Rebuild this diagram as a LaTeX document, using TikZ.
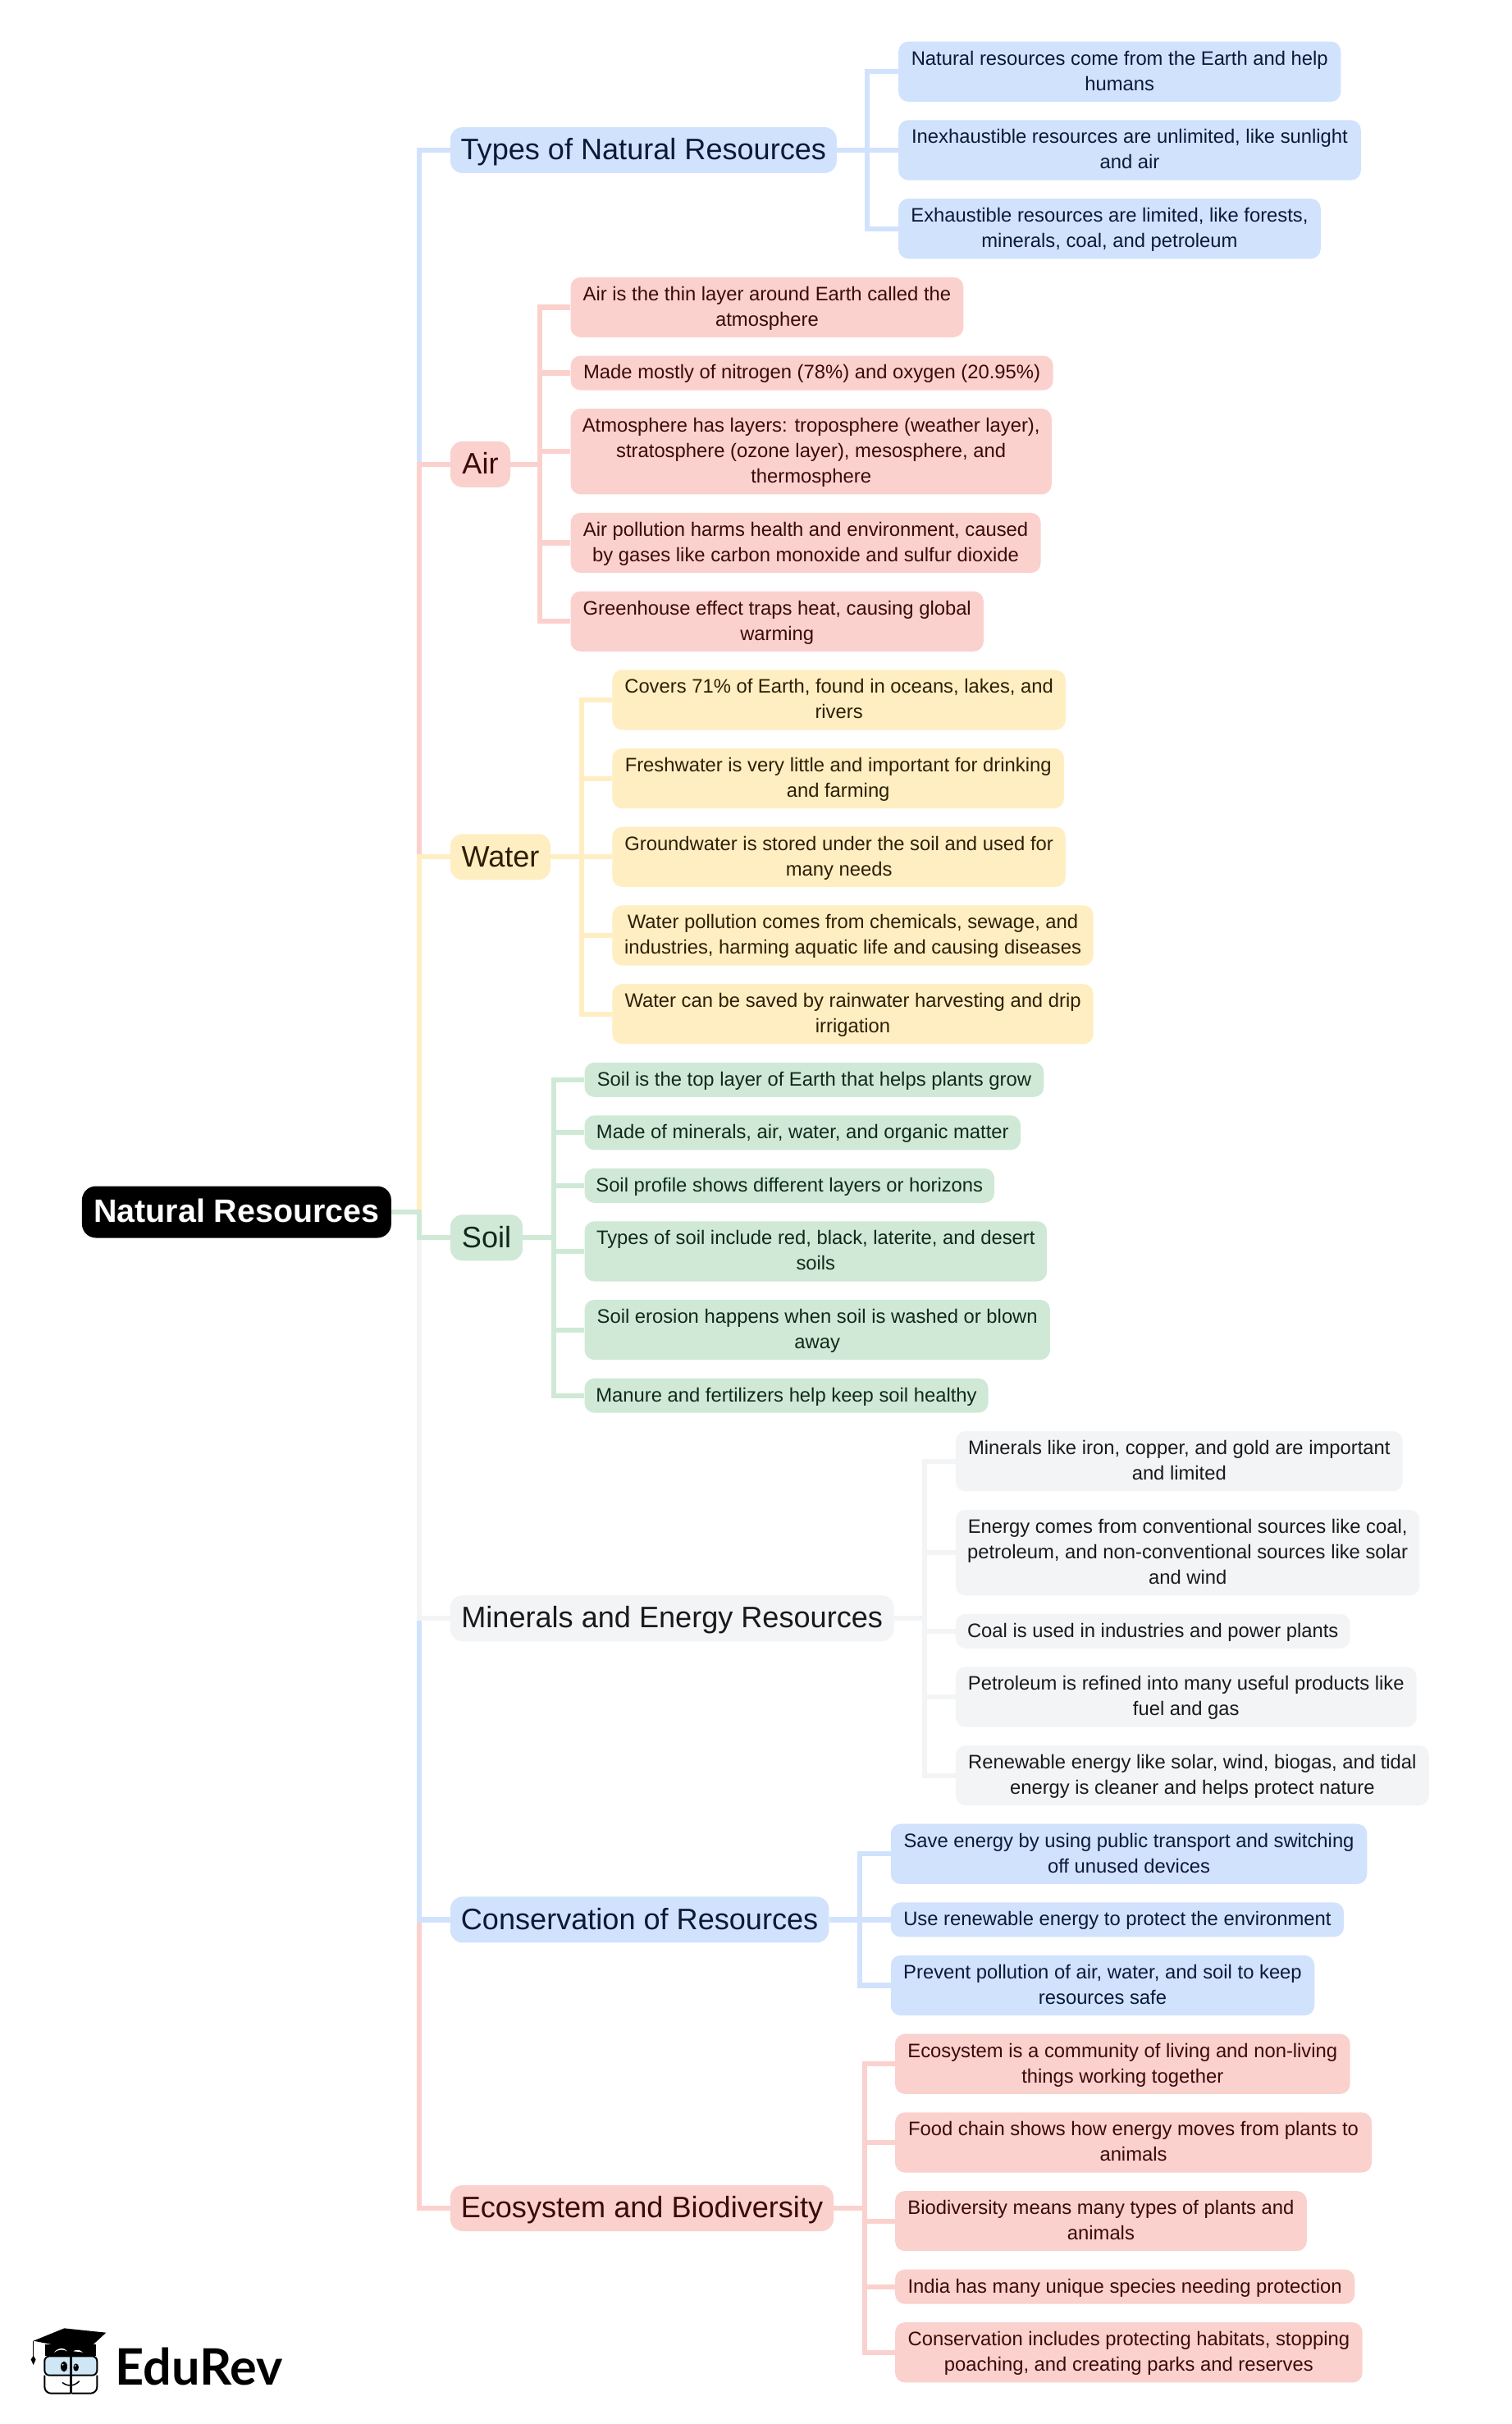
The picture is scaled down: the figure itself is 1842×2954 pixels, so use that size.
\documentclass[tikz,border=0pt]{standalone}
\usepackage{fontspec}
\setmainfont{Liberation Sans}
\newfontfamily\logofont{Lato}
\definecolor{bluef}{HTML}{D1E2FC}\definecolor{bluet}{HTML}{0A1A3A}
\definecolor{pinkf}{HTML}{FBD1CD}\definecolor{pinkt}{HTML}{3B0A0A}
\definecolor{yelf}{HTML}{FFEEC2}\definecolor{yelt}{HTML}{2E1F05}
\definecolor{grnf}{HTML}{CFE9D6}\definecolor{grnt}{HTML}{0F2A1A}
\definecolor{gryf}{HTML}{F3F4F6}\definecolor{gryt}{HTML}{1A1A1A}
\definecolor{glass}{HTML}{CFE6F5}
\tikzset{
 box/.style={inner sep=0pt,align=center,rounded corners=12pt},
 leafbox/.style={box,font=\fontsize{23.8}{31}\selectfont},
 topicbox/.style={box,rounded corners=15pt,font=\fontsize{36.1}{42}\selectfont},
 rootbox/.style={box,rounded corners=17pt,fill=black,text=white,font=\fontsize{39.4}{45}\bfseries\selectfont},
 bluec/.style={fill=bluef,text=bluet},
 pinkc/.style={fill=pinkf,text=pinkt},
 yelc/.style={fill=yelf,text=yelt},
 grnc/.style={fill=grnf,text=grnt},
 gryc/.style={fill=gryf,text=gryt},
 link/.style={line width=6.2pt,line join=miter},
}
% name, x1, x2, y1, y2, style, text
\newcommand{\nd}[7]{\node[#6,minimum width=(#3-#2)*1.885pt,minimum height=(#5-#4)*1pt] (#1) at ({(#2+#3)/2},{(#4+#5)/2}) {#7};}
\newcommand{\lf}[7]{\nd{#1}{#2}{(#3-1)}{#4}{#5}{leafbox,#6}{\rule{0pt}{22pt}#7\rule[-7.4pt]{0pt}{7.4pt}}}
\newcommand{\tp}[6]{\nd{#1}{#2}{#3}{(#4-28)}{(#4+28)}{topicbox,#5}{\rule{0pt}{30pt}#6\rule[-6pt]{0pt}{6pt}}}
\newcommand{\fan}[4]{\coordinate (busx) at (#2,0);
 \foreach \l in {#4}{\draw[link,#3] (#1.east) -- (busx |- #1.east) -- (busx |- \l.west) -- (\l.west);}}
\begin{document}
\begin{tikzpicture}[x=1.885pt,y=-1pt]
\fill[white] (0pt,0pt) rectangle (1842pt,-2954pt);
\useasboundingbox (0pt,0pt) rectangle (1842pt,-2954pt);
\nd{root}{53}{253}{1445.5}{1508.5}{rootbox}{\rule{0pt}{32pt}Natural Resources\rule[-7.4pt]{0pt}{7.4pt}}
\tp{t}{291.2}{541}{183}{bluec}{Types of Natural Resources}
\tp{a}{291.2}{330}{565.8}{pinkc}{Air}
\tp{w}{291.2}{356}{1044.3}{yelc}{Water}
\tp{s}{291.2}{338}{1508.25}{grnc}{Soil}
\tp{m}{291.2}{578}{1972.2}{gryc}{Minerals and Energy Resources}
\tp{c}{291.2}{536}{2339.4}{bluec}{Conservation of Resources}
\tp{e}{291.2}{539}{2691}{pinkc}{Ecosystem and Biodiversity}
\lf{t1}{581}{868}{50.7}{123.9}{bluec}{Natural resources come from the Earth and help\\humans}
\lf{t2}{581}{881}{146.4}{219.6}{bluec}{Inexhaustible resources are unlimited, like sunlight\\and air}
\lf{t3}{581}{855}{242.1}{315.3}{bluec}{Exhaustible resources are limited, like forests,\\minerals, coal, and petroleum}
\lf{a1}{369}{624}{337.8}{411.0}{pinkc}{Air is the thin layer around Earth called the\\atmosphere}
\lf{a2}{369}{682}{433.5}{475.5}{pinkc}{Made mostly of nitrogen (78\%) and oxygen (20.95\%)}
\lf{a3}{369}{681}{498.0}{602.4}{pinkc}{Atmosphere has layers: troposphere (weather layer),\\stratosphere (ozone layer), mesosphere, and\\thermosphere}
\lf{a4}{369}{674}{624.9}{698.1}{pinkc}{Air pollution harms health and environment, caused\\by gases like carbon monoxide and sulfur dioxide}
\lf{a5}{369}{637}{720.6}{793.8}{pinkc}{Greenhouse effect traps heat, causing global\\warming}
\lf{w1}{396}{690}{816.3}{889.5}{yelc}{Covers 71\% of Earth, found in oceans, lakes, and\\rivers}
\lf{w2}{396}{689}{912.0}{985.2}{yelc}{Freshwater is very little and important for drinking\\and farming}
\lf{w3}{396}{690}{1007.7}{1080.9}{yelc}{Groundwater is stored under the soil and used for\\many needs}
\lf{w4}{396}{708}{1103.4}{1176.6}{yelc}{Water pollution comes from chemicals, sewage, and\\industries, harming aquatic life and causing diseases}
\lf{w5}{396}{708}{1199.1}{1272.3}{yelc}{Water can be saved by rainwater harvesting and drip\\irrigation}
\lf{s1}{378}{676}{1294.8}{1336.8}{grnc}{Soil is the top layer of Earth that helps plants grow}
\lf{s2}{378}{661}{1359.3}{1401.3}{grnc}{Made of minerals, air, water, and organic matter}
\lf{s3}{378}{644}{1423.8}{1465.8}{grnc}{Soil profile shows different layers or horizons}
\lf{s4}{378}{678}{1488.3}{1561.5}{grnc}{Types of soil include red, black, laterite, and desert\\soils}
\lf{s5}{378}{680}{1584.0}{1657.2}{grnc}{Soil erosion happens when soil is washed or blown\\away}
\lf{s6}{378}{640}{1679.7}{1721.7}{grnc}{Manure and fertilizers help keep soil healthy}
\lf{m1}{618}{908}{1744.2}{1817.4}{gryc}{Minerals like iron, copper, and gold are important\\and limited}
\lf{m2}{618}{919}{1839.9}{1944.3}{gryc}{Energy comes from conventional sources like coal,\\petroleum, and non-conventional sources like solar\\and wind}
\lf{m3}{618}{874}{1966.8}{2008.8}{gryc}{Coal is used in industries and power plants}
\lf{m4}{618}{917}{2031.3}{2104.5}{gryc}{Petroleum is refined into many useful products like\\fuel and gas}
\lf{m5}{618}{925}{2127.0}{2200.2}{gryc}{Renewable energy like solar, wind, biogas, and tidal\\energy is cleaner and helps protect nature}
\lf{c1}{576}{885}{2222.7}{2295.9}{bluec}{Save energy by using public transport and switching\\off unused devices}
\lf{c2}{576}{870}{2318.4}{2360.4}{bluec}{Use renewable energy to protect the environment}
\lf{c3}{576}{851}{2382.9}{2456.1}{bluec}{Prevent pollution of air, water, and soil to keep\\resources safe}
\lf{e1}{578.8}{874}{2478.6}{2551.8}{pinkc}{Ecosystem is a community of living and non-living\\things working together}
\lf{e2}{578.8}{888}{2574.3}{2647.5}{pinkc}{Food chain shows how energy moves from plants to\\animals}
\lf{e3}{578.8}{846}{2670.0}{2743.2}{pinkc}{Biodiversity means many types of plants and\\animals}
\lf{e4}{578.8}{877}{2765.7}{2807.7}{pinkc}{India has many unique species needing protection}
\lf{e5}{578.8}{882}{2830.2}{2903.4}{pinkc}{Conservation includes protecting habitats, stopping\\poaching, and creating parks and reserves}
% connectors
\coordinate (trunk) at (271.2,0);
\foreach \n/\cc in {t/bluef,a/pinkf,w/yelf,e/pinkf,c/bluef,m/gryf,s/grnf}{
 \draw[link,\cc] (root.east) -- (trunk |- root.east) -- (trunk |- \n.west) -- (\n.west);}
\fan{t}{560.8}{bluef}{t1,t2,t3}
\fan{a}{349}{pinkf}{a1,a2,a3,a4,a5}
\fan{w}{376}{yelf}{w1,w2,w3,w4,w5}
\fan{s}{358}{grnf}{s1,s2,s3,s4,s5,s6}
\fan{m}{598}{gryf}{m1,m2,m3,m4,m5}
\fan{c}{556}{bluef}{c1,c2,c3}
\fan{e}{559}{pinkf}{e1,e2,e3,e4,e5}
% logo
\begin{scope}[shift={(0pt,-2800pt)},x=0.3333pt,y=-0.3333pt]
 \fill (165,170) rectangle (350,212);
 \fill[white] (198,200) .. controls (215,180) and (235,182) .. (246,196) .. controls (232,188) and (215,188) .. (198,200);
 \fill[white] (268,196) .. controls (280,188) and (292,190) .. (303,200) -- (290,198) -- cycle;
 \fill (122,158) -- (235,112) -- (388,128) -- (315,195) -- cycle;
 \draw[line width=1.2pt] (122,158) -- (122,215);
 \fill (122,212) -- (131,226) -- (122,246) -- (113,226) -- cycle;
 \draw[line width=2pt,fill=glass,rounded corners=6pt] (163,214) rectangle (355,284);
 \draw[line width=2pt,rounded corners=8pt] (258,350) -- (163,350) -- (163,284);
 \draw[line width=2pt,rounded corners=8pt] (262,350) -- (355,350) -- (355,284);
 \draw[line width=2.5pt] (260,208) -- (260,352);
 \fill (234,252) ellipse [x radius=12,y radius=19];
 \fill (278,255) ellipse [x radius=10,y radius=14];
 \fill[white] (230,245) circle (3);\fill[white] (275,249) circle (3);
 \draw[line width=1.5pt] (228,310) .. controls (245,325) and (272,325) .. (290,305);
 \node[inner sep=0pt,anchor=base west,font=\logofont\bfseries\fontsize{61.2}{61}\selectfont] (logotext) at (420,318) {EduRev};
\end{scope}
\end{tikzpicture}
\end{document}
